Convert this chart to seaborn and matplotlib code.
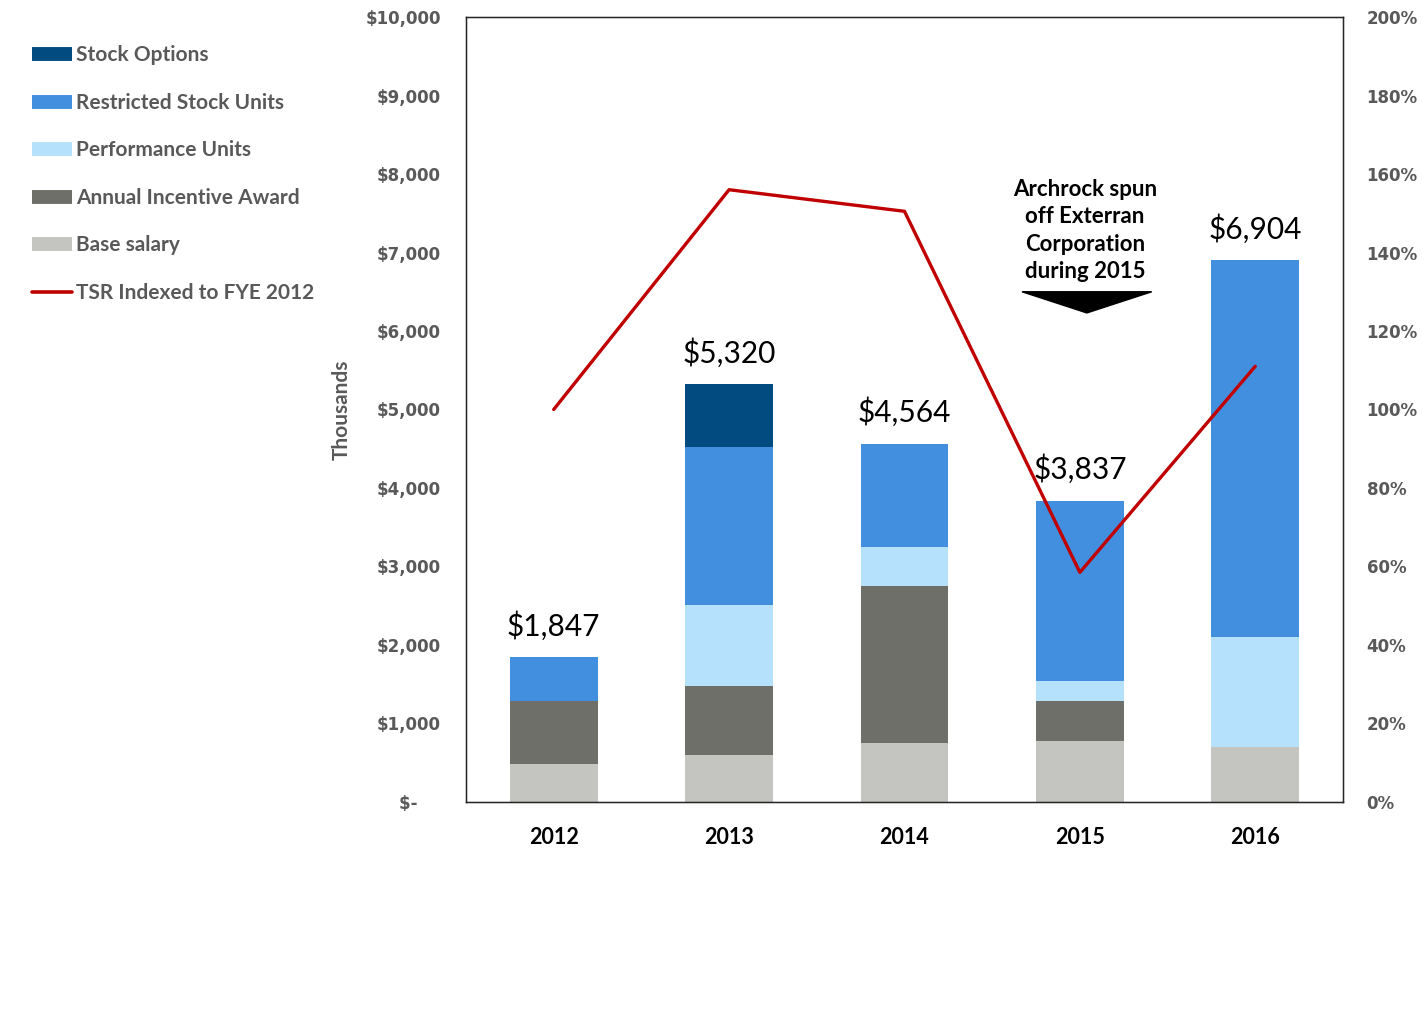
#!/usr/bin/env python3
"""Stacked pay components with TSR line"""

import numpy as np
import pandas as pd
import matplotlib
matplotlib.use('Agg')
import matplotlib.pyplot as plt
from matplotlib.lines import Line2D
from matplotlib.patches import Polygon
import seaborn as sns

# --------------------------------------------------
years = ['2012', '2013', '2014', '2015', '2016']
base_salary = [484, 599, 752, 777, 701]
annual_incentive = [803, 879, 2000, 510, 0]
performance_units = [0, 1032, 496, 254, 1401]
restricted_units = [560, 2012, 1316, 2296, 4802]
stock_options = [0, 798, 0, 0, 0]
tsr = [100, 156, 150.5, 58.5, 111]

series = ['Base salary', 'Annual Incentive Award', 'Performance Units',
          'Restricted Stock Units', 'Stock Options']
colors = ['#c4c4c0', '#6f6f69', '#b5e1fc', '#418fde', '#024b80']
tsr_color = '#c00000'
gray = '#595959'

sns.set_style('white')
plt.rcParams['font.family'] = ['Lato', 'DejaVu Sans']

df = pd.DataFrame({'year': years,
                   'Base salary': base_salary,
                   'Annual Incentive Award': annual_incentive,
                   'Performance Units': performance_units,
                   'Restricted Stock Units': restricted_units,
                   'Stock Options': stock_options})
cum = df[series].cumsum(axis=1)
totals = cum['Stock Options']

fig = plt.figure(figsize=(14.22, 10.32), dpi=100)
ax = fig.add_axes([0.3277, 0.2229, 0.6167, 0.7606])

# draw cumulative bars from the top layer down so lower layers overlay
for name, col in zip(series[::-1], colors[::-1]):
    sns.barplot(x=df['year'], y=cum[name], color=col, width=0.5,
                saturation=1, ax=ax, linewidth=0)

ax.set_xlim(-0.5, 4.5)
ax.set_ylim(0, 10000)
ax.set_yticks(np.arange(0, 10001, 1000))
ax.set_yticklabels(['$-    '] + [f'${v:,}' for v in range(1000, 10001, 1000)],
                   family='DejaVu Sans', fontweight='bold', fontsize=12, color=gray)
ax.set_xticks(range(len(years)))
ax.set_xticklabels(years, fontweight='bold', fontsize=15.5, color='black')
ax.tick_params(axis='y', length=0, pad=18)
ax.tick_params(axis='x', length=0, pad=18)
ax.set_xlabel('')
ax.set_ylabel('Thousands', fontsize=15, fontweight='bold', color=gray,
              family=['Liberation Sans Narrow', 'Lato'], labelpad=10)
for sp in ax.spines.values():
    sp.set_visible(True)
    sp.set_color('black')
    sp.set_linewidth(1)

# total labels
for i, tot in enumerate(totals):
    ax.annotate(f'${tot:,}', (i, tot), xytext=(0, 12), textcoords='offset points',
                ha='center', va='bottom', fontsize=21.5, color='black')

# TSR line on secondary axis
ax2 = ax.twinx()
sns.lineplot(x=np.arange(len(years)), y=tsr, color=tsr_color, linewidth=2.4,
             ax=ax2)
ax2.set_ylim(0, 200)
ax2.set_yticks(np.arange(0, 201, 20))
ax2.set_yticklabels([f'{v}%' for v in range(0, 201, 20)],
                    family='DejaVu Sans', fontweight='bold', fontsize=12, color=gray)
ax2.tick_params(axis='y', length=0, pad=17)
ax2.set_xlim(-0.5, 4.5)
ax2.set_ylabel('')

# annotation for 2015 spin-off
ax.text(3.03, 7280, 'Archrock spun\noff Exterran\nCorporation\nduring 2015',
        ha='center', va='center', fontsize=16, fontweight='bold',
        linespacing=1.37, color='black')
ax.add_patch(Polygon([[2.67, 6500], [3.41, 6500], [3.04, 6230]],
                     closed=True, color='black', zorder=5))

# legend
handles = [Line2D([0], [0], color=c, lw=10, solid_capstyle='butt')
           for c in colors[::-1]]
handles.append(Line2D([0], [0], color=tsr_color, lw=2.6))
labels = series[::-1] + ['TSR Indexed to FYE 2012']
leg = fig.legend(handles, labels, loc='upper left', bbox_to_anchor=(0.0225, 0.956),
                 frameon=False, borderpad=0, borderaxespad=0,
                 handlelength=1.9, handletextpad=0.22,
                 labelspacing=1.32, prop={'size': 15, 'weight': 'bold'})
for t in leg.get_texts():
    t.set_color(gray)

fig.savefig('out.png', dpi=100)
